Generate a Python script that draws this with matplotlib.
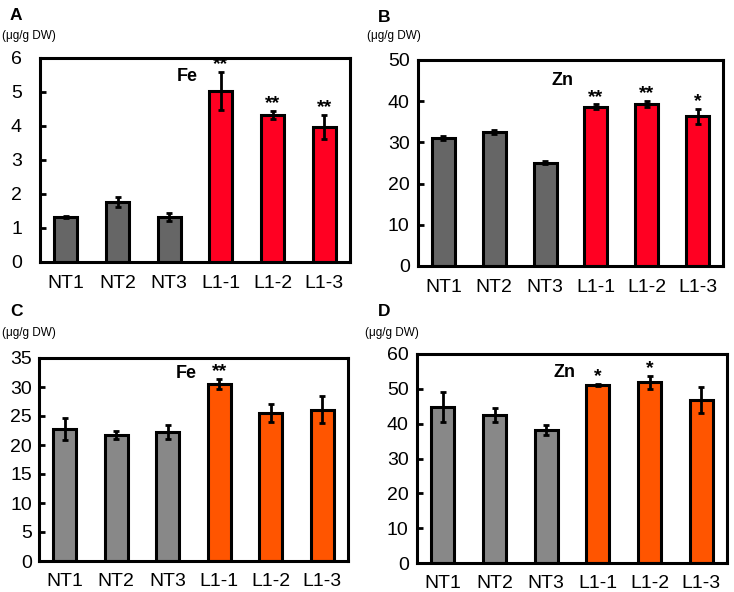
import matplotlib.pyplot as plt
import numpy as np

plt.rcParams['font.family'] = ['Liberation Sans', 'DejaVu Sans']

lines = ['NT1', 'NT2', 'NT3', 'L1-1', 'L1-2', 'L1-3']

fe_a = [1.31, 1.77, 1.33, 5.03, 4.32, 3.97]
fe_a_err = [0.03, 0.15, 0.11, 0.57, 0.12, 0.36]
fe_a_sig = ['', '', '', '**', '**', '**']

zn_b = [31.0, 32.6, 25.1, 38.7, 39.3, 36.3]
zn_b_err = [0.5, 0.5, 0.3, 0.5, 0.8, 1.8]
zn_b_sig = ['', '', '', '**', '**', '*']

fe_c = [22.8, 21.8, 22.2, 30.5, 25.5, 26.1]
fe_c_err = [1.9, 0.7, 1.2, 0.9, 1.5, 2.3]
fe_c_sig = ['', '', '', '**', '', '']

zn_d = [44.8, 42.5, 38.1, 51.0, 51.9, 46.7]
zn_d_err = [4.4, 1.9, 1.4, 0.3, 1.9, 3.7]
zn_d_sig = ['', '', '', '*', '*', '']

W, H = 734, 592
fig = plt.figure(figsize=(W / 100, H / 100), dpi=100)

# letter, element, values, errors, stars, ymax, step, grey, colour,
# axes box in pixels (left, top, right, bottom), element label y, letter xy, unit xy, tick pad
panels = [
    ('A', 'Fe', fe_a, fe_a_err, fe_a_sig, 6, 1, '#666666', '#ff0022',
     (40, 58, 350, 262), 5.45, (10, 16), (2, 36), 13),
    ('B', 'Zn', zn_b, zn_b_err, zn_b_sig, 50, 10, '#666666', '#ff0022',
     (418, 60, 723, 266), 45.0, (378, 17), (367, 36), 6),
    ('C', 'Fe', fe_c, fe_c_err, fe_c_sig, 35, 5, '#888888', '#ff5500',
     (39, 358, 348, 561), 32.4, (10, 312), (2, 333), 5),
    ('D', 'Zn', zn_d, zn_d_err, zn_d_sig, 60, 10, '#888888', '#ff5500',
     (417, 354, 727, 563), 54.8, (378, 312), (365, 333), 6),
]

x = np.arange(len(lines))

for (letter, elem, vals, errs, sig, ymax, step, grey, col, box, elem_y,
     letter_xy, unit_xy, pad) in panels:
    l, t, r, b = box
    ax = fig.add_axes([l / W, 1 - b / H, (r - l) / W, (b - t) / H])
    colors = [grey] * 3 + [col] * 3
    ax.bar(x, vals, width=0.45, color=colors, edgecolor='black', linewidth=2.2, zorder=2)
    ax.errorbar(x, vals, yerr=errs, fmt='none', ecolor='black', elinewidth=2,
                capsize=2.5, capthick=2, zorder=3)
    for i, s in enumerate(sig):
        if s:
            ax.annotate(s, (x[i], vals[i] + errs[i]), xytext=(0, 2),
                        textcoords='offset points', ha='center', va='baseline',
                        fontsize=14, fontweight='bold', annotation_clip=False)
    ax.text(2.35, elem_y, elem, ha='center', va='center', fontsize=13, fontweight='bold')
    ax.set_xlim(-0.5, 5.5)
    ax.set_ylim(0, ymax)
    ax.set_yticks(np.arange(0, ymax + step / 2, step))
    ax.set_xticks(x)
    ax.set_xticklabels(lines)
    ax.tick_params(axis='y', direction='in', length=4, width=2, labelsize=14, pad=pad)
    ax.tick_params(axis='x', length=0, labelsize=14, pad=9)
    for sp in ax.spines.values():
        sp.set_linewidth(2.2)
    fig.text(letter_xy[0] / W, 1 - letter_xy[1] / H, letter, fontsize=12.5,
             fontweight='bold', ha='left', va='center')
    fig.text(unit_xy[0] / W, 1 - unit_xy[1] / H, '(μg/g DW)', fontsize=8.5,
             ha='left', va='center')

fig.savefig('out.png', dpi=100)
